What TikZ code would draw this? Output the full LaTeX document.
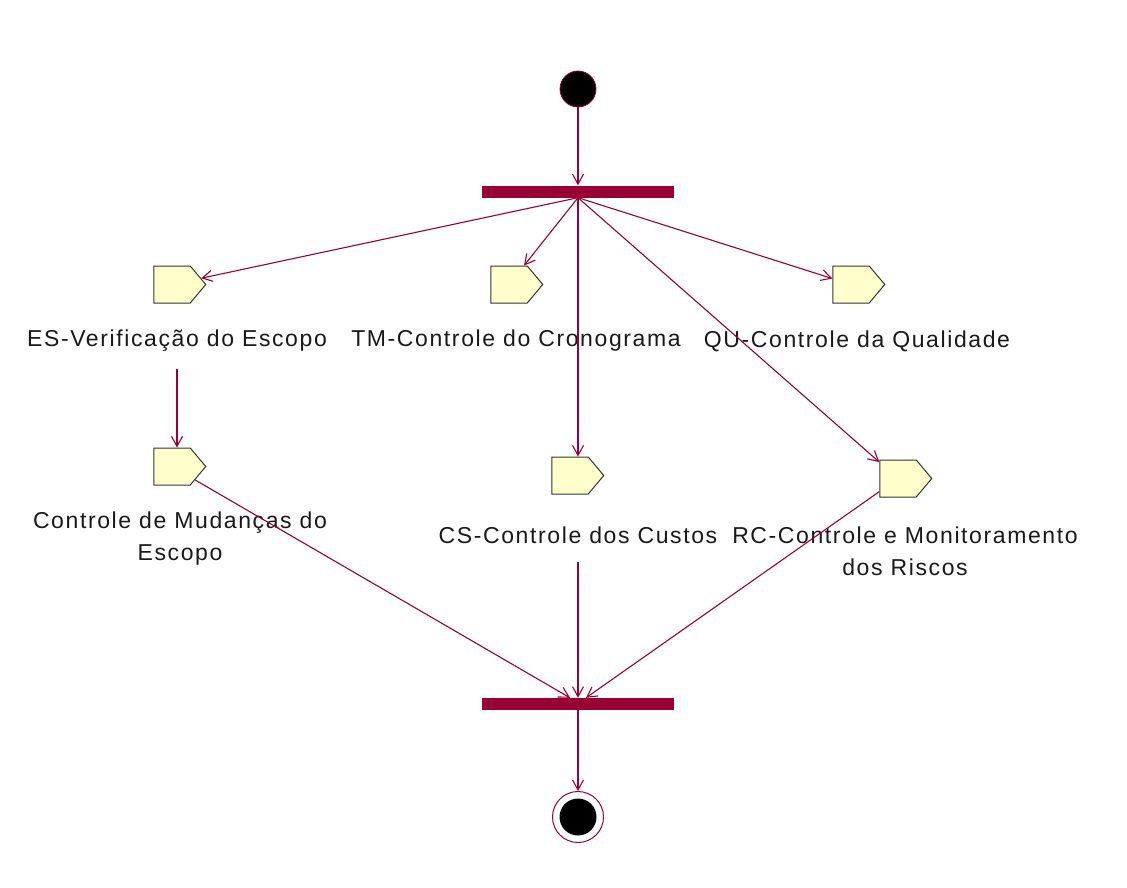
\documentclass[tikz,border=0pt]{standalone}
\usepackage{fontspec}
\setmainfont{Liberation Sans}[LetterSpace=7]
\usetikzlibrary{arrows.meta,shapes.symbols,calc}
\definecolor{umlred}{RGB}{153,0,51}
\definecolor{actfill}{RGB}{255,255,204}
\begin{document}
\begin{tikzpicture}[x=1pt,y=-1pt,
 arr/.style={draw=umlred, line width=1.1pt, -{Straight Barb[length=10pt,width=11pt]}},
 act/.style={signal, signal to=east, signal pointer angle=100, draw=black!80, fill=actfill, line width=1pt, minimum width=52pt, minimum height=37pt, inner sep=0pt},
 bar/.style={fill=umlred, minimum width=192pt, minimum height=12pt, inner sep=0pt},
 lbl/.style={font=\fontsize{23}{32}\selectfont, align=center, text=black!90, inner sep=0pt}
]
\useasboundingbox[fill=white] (0,0) rectangle (1127,888);
\node[circle, fill=black, draw=umlred, line width=0.8pt, minimum size=36pt, inner sep=0pt] (start) at (578,89) {};
\node[bar] (fork) at (578,191.5) {};
\node[bar] (join) at (578,704) {};
\node[circle, draw=umlred, line width=1pt, minimum size=51pt, inner sep=0pt] (end) at (578,817) {};
\node[circle, fill=black, minimum size=37pt, inner sep=0pt] (endin) at (578,817) {};

\node[act] (es) at (172,284.5) {};
\node[act] (tm) at (509,284.5) {};
\node[act] (qu) at (851,284.5) {};
\node[act] (mud) at (172,466.5) {};
\node[act] (cs) at (570,475.5) {};
\node[act] (rc) at (898,478.5) {};

\node[lbl] (eslbl) at (177,341) {ES-Verificação do Escopo};
\node[lbl] (tmlbl) at (516,341) {TM-Controle do Cronograma};
\node[lbl] (qulbl) at (857,341) {QU-Controle da Qualidade};
\node[lbl] (mudlbl) at (180,539) {Controle de Mudanças do\\Escopo};
\node[lbl] (cslbl) at (578,535) {CS-Controle dos Custos};
\node[lbl] (rclbl) at (905,551) {RC-Controle e Monitoramento\\dos Riscos};

\draw[arr] (start) -- (fork);
\draw[arr] (fork.south) -- (es);
\draw[arr] (fork.south) -- (tm);
\draw[arr] (fork.south) -- (cs.north -| fork.south);
\draw[arr] (fork.south) -- (qu);
\draw[arr] (fork.south) -- (rc);
\draw[arr, shorten <=17pt] (eslbl.south) -- (eslbl.south |- mud.north);
\draw[arr] (mud) -- ([xshift=-8pt]join.north);
\draw[arr, shorten <=18pt] (cslbl.south -| join.north) -- (join.north);
\draw[arr] (rc) -- ([xshift=8pt]join.north);
\draw[arr] (join) -- (end);
\end{tikzpicture}
\end{document}
